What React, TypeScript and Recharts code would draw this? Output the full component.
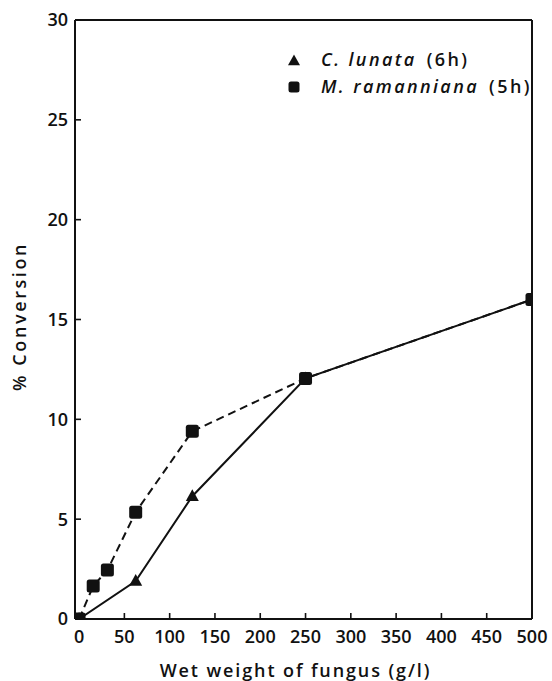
import React from 'react';
import { LineChart, Line, XAxis, YAxis, ReferenceLine } from 'recharts';

// ---- data ----
const xTicks = [0, 50, 100, 150, 200, 250, 300, 350, 400, 450, 500];
const yTicks = [0, 5, 10, 15, 20, 25, 30];

// C. lunata (6h) — solid line, triangles
const lunataWeight = [0, 62.5, 125, 250, 500];
const lunataConversion = [0, 1.9, 6.15, 12.05, 16];

// M. ramanniana (5h) — dashed line, squares
const ramannianaWeight = [0, 15.6, 31.25, 62.5, 125, 250, 500];
const ramannianaConversion = [0, 1.65, 2.45, 5.35, 9.4, 12.05, 16];

const lunataData = lunataWeight.map((x, i) => ({ x, y: lunataConversion[i] }));
const ramannianaData = ramannianaWeight.map((x, i) => ({ x, y: ramannianaConversion[i] }));

const FONT = '"Open Sans", "DejaVu Sans", sans-serif';
const INK = '#111';
const WEIGHT = 600;

const Triangle = ({ cx, cy, size = 13 }: any) => {
  if (cx == null || cy == null) return null;
  const h = size * 0.9;
  return (
    <polygon
      points={`${cx},${cy - h * 0.6} ${cx - size / 2},${cy + h * 0.4} ${cx + size / 2},${cy + h * 0.4}`}
      fill={INK}
    />
  );
};

const Square = ({ cx, cy, size = 13 }: any) => {
  if (cx == null || cy == null) return null;
  return <rect x={cx - size / 2} y={cy - size / 2} width={size} height={size} rx={2.5} fill={INK} />;
};

const legendText = { fontStyle: 'italic' as const, letterSpacing: 2.4 };

const LegendBox = () => (
  <div
    style={{
      position: 'absolute',
      left: 287,
      top: 46,
      fontFamily: FONT,
      fontSize: 18,
      fontWeight: WEIGHT,
      color: INK,
      lineHeight: '27px',
      whiteSpace: 'nowrap',
    }}
  >
    <div style={{ display: 'flex', alignItems: 'center' }}>
      <svg width={14} height={14} style={{ marginRight: 20 }}>
        <Triangle cx={7} cy={8} size={12} />
      </svg>
      <span style={legendText}>C. lunata</span>
      <span style={{ letterSpacing: 2.4, marginLeft: 10 }}>(6h)</span>
    </div>
    <div style={{ display: 'flex', alignItems: 'center' }}>
      <svg width={14} height={14} style={{ marginRight: 20 }}>
        <Square cx={7} cy={7} size={11} />
      </svg>
      <span style={legendText}>M. ramanniana</span>
      <span style={{ letterSpacing: 2.4, marginLeft: 10 }}>(5h)</span>
    </div>
  </div>
);

const XTitle = ({ viewBox }: any) => {
  const { x, width } = viewBox;
  return (
    <text
      x={x + width / 2 - 8}
      y={677}
      textAnchor="middle"
      fontFamily={FONT}
      fontSize={18}
      fontWeight={WEIGHT}
      letterSpacing={1.9}
      fill={INK}
    >
      Wet weight of fungus (g/l)
    </text>
  );
};

const YTitle = ({ viewBox }: any) => {
  const { y, height } = viewBox;
  const cx = 19;
  const cy = y + height / 2 - 3;
  return (
    <text
      x={cx}
      y={cy}
      transform={`rotate(-90 ${cx} ${cy})`}
      textAnchor="middle"
      dominantBaseline="central"
      fontFamily={FONT}
      fontSize={18}
      fontWeight={WEIGHT}
      letterSpacing={2.6}
      fill={INK}
    >
      % Conversion
    </text>
  );
};

const tickStyle = { fill: INK, fontSize: 18, fontFamily: FONT, fontWeight: WEIGHT };

export default function App() {
  return (
    <div style={{ position: 'absolute', left: 0, top: 0, width: 552, height: 681, background: '#fff' }}>
      <LineChart width={552} height={681} margin={{ top: 20, right: 20, bottom: 0, left: 0 }}>
        <XAxis
          dataKey="x"
          type="number"
          domain={[-4.5, 500]}
          ticks={xTicks}
          allowDataOverflow
          height={62}
          axisLine={{ stroke: INK, strokeWidth: 2 }}
          tickLine={{ stroke: INK, strokeWidth: 1.6 }}
          tickSize={-6}
          tickMargin={17}
          tick={tickStyle}
          label={<XTitle />}
        />
        <YAxis
          type="number"
          domain={[0, 30]}
          ticks={yTicks}
          allowDataOverflow
          width={75}
          axisLine={{ stroke: INK, strokeWidth: 2 }}
          tickLine={{ stroke: INK, strokeWidth: 1.6 }}
          tickSize={-6}
          tickMargin={13}
          tick={tickStyle}
          label={<YTitle />}
        />
        {/* frame: top and right edges */}
        <ReferenceLine y={30} stroke={INK} strokeWidth={2} ifOverflow="visible" />
        <ReferenceLine x={500} stroke={INK} strokeWidth={2} ifOverflow="visible" />

        <Line
          data={lunataData}
          dataKey="y"
          name="C. lunata (6h)"
          stroke={INK}
          strokeWidth={2}
          dot={(p: any) => <Triangle key={`t${p.index}`} cx={p.cx} cy={p.cy} />}
          activeDot={false}
          isAnimationActive={false}
        />
        <Line
          data={ramannianaData}
          dataKey="y"
          name="M. ramanniana (5h)"
          stroke={INK}
          strokeWidth={2}
          strokeDasharray="8 5"
          dot={(p: any) => <Square key={`s${p.index}`} cx={p.cx} cy={p.cy} />}
          activeDot={false}
          isAnimationActive={false}
        />
      </LineChart>
      <LegendBox />
    </div>
  );
}
